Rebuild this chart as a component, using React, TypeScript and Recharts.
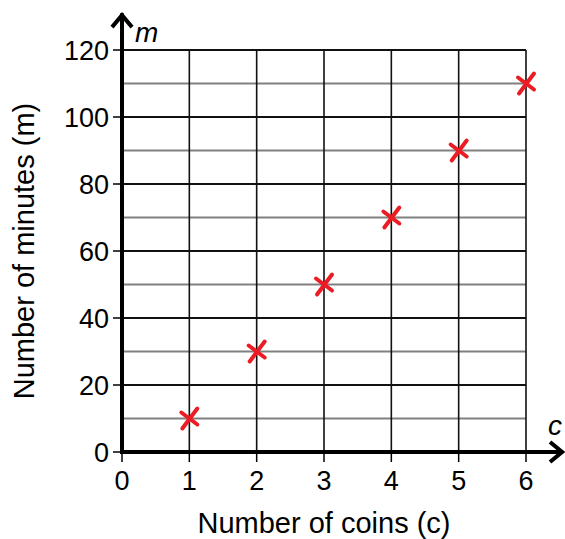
import React from "react";
import {
  ScatterChart,
  Scatter,
  XAxis,
  YAxis,
  ReferenceLine,
  Label,
} from "recharts";

// coins vs minutes
const coins = [1, 2, 3, 4, 5, 6];
const minutes = [10, 30, 50, 70, 90, 110];

const xTicks = [0, 1, 2, 3, 4, 5, 6];
const yTicks = [0, 20, 40, 60, 80, 100, 120];
const minorY = [10, 30, 50, 70, 90, 110];
const majorY = [20, 40, 60, 80, 100, 120];
const gridX = [1, 2, 3, 4, 5, 6];

const data = coins.map((c, i) => ({ c, m: minutes[i] }));

const FONT = "'Liberation Sans', Arial, sans-serif";
const RED = "#ec1c24";

const Cross = (props: any) => {
  const { cx, cy } = props;
  if (cx == null || cy == null) return null;
  return (
    <g stroke={RED} strokeWidth={4} strokeLinecap="round" fill="none">
      <path d={`M${cx + 8},${cy - 10} L${cx - 7},${cy + 10}`} />
      <path d={`M${cx - 8},${cy - 6} L${cx + 8},${cy + 6}`} />
    </g>
  );
};

const YArrow = (props: any) => {
  const { x1, y1, x2, y2 } = props;
  return (
    <g>
      <line x1={x1} y1={y1 + 2} x2={x2} y2={y2} stroke="#000" strokeWidth={4} />
      <polyline
        points={`${x2 - 10},${y2 + 14} ${x2},${y2 + 2} ${x2 + 10},${y2 + 14}`}
        stroke="#000"
        strokeWidth={4}
        fill="none"
      />
      <text x={x2 + 13} y={y2 + 29} fontFamily={FONT} fontStyle="italic" fontSize={28} fill="#000">
        m
      </text>
    </g>
  );
};

const XArrow = (props: any) => {
  const { x1, y1, x2, y2 } = props;
  return (
    <g>
      <line x1={x1 - 2} y1={y1} x2={x2} y2={y2} stroke="#000" strokeWidth={4} />
      <polyline
        points={`${x2 - 13},${y2 - 10} ${x2 - 1},${y2} ${x2 - 13},${y2 + 10}`}
        stroke="#000"
        strokeWidth={4}
        fill="none"
      />
      <text x={x2 - 15} y={y2 - 17} fontFamily={FONT} fontStyle="italic" fontSize={28} fill="#000">
        c
      </text>
    </g>
  );
};

const YTitle = (props: any) => {
  const { viewBox } = props;
  const x = 34;
  const y = viewBox.y + viewBox.height / 2;
  return (
    <text
      x={x}
      y={y}
      transform={`rotate(-90, ${x}, ${y})`}
      textAnchor="middle"
      fontFamily={FONT}
      fontSize={29}
      fill="#000"
    >
      Number of minutes (m)
    </text>
  );
};

export default function App() {
  return (
    <div style={{ position: "absolute", left: 0, top: 0 }}>
      <ScatterChart
        width={565}
        height={539}
        margin={{ top: 50, right: 39, left: 0, bottom: 0 }}
        style={{ fontFamily: FONT }}
      >
        <XAxis
          type="number"
          dataKey="c"
          domain={[0, 6]}
          ticks={xTicks}
          height={87}
          axisLine={false}
          tickSize={10}
          tickMargin={9}
          tickLine={{ stroke: "#000", strokeWidth: 1.5 }}
          tick={{ fill: "#000", fontSize: 27, fontFamily: FONT }}
        >
          <Label
            value="Number of coins (c)"
            position="insideBottom"
            offset={6}
            fill="#000"
            fontSize={29}
            fontFamily={FONT}
          />
        </XAxis>
        <YAxis
          type="number"
          dataKey="m"
          domain={[0, 120]}
          ticks={yTicks}
          width={122}
          axisLine={false}
          tickSize={9}
          tickMargin={4}
          tickLine={{ stroke: "#000", strokeWidth: 1.5 }}
          tick={{ fill: "#000", fontSize: 27, fontFamily: FONT }}
        >
          <Label content={<YTitle />} />
        </YAxis>

        {minorY.map((v) => (
          <ReferenceLine key={`mi-${v}`} y={v} stroke="#808080" strokeWidth={2} />
        ))}
        {majorY.map((v) => (
          <ReferenceLine key={`ma-${v}`} y={v} stroke="#111" strokeWidth={2} />
        ))}
        {gridX.map((v) => (
          <ReferenceLine key={`gx-${v}`} x={v} stroke="#111" strokeWidth={1.6} />
        ))}

        <ReferenceLine
          segment={[
            { x: 0, y: 0 },
            { x: 0, y: 131 },
          ]}
          ifOverflow="visible"
          shape={<YArrow />}
        />
        <ReferenceLine
          segment={[
            { x: 0, y: 0 },
            { x: 6.55, y: 0 },
          ]}
          ifOverflow="visible"
          shape={<XArrow />}
        />

        <Scatter data={data} shape={<Cross />} isAnimationActive={false} />
      </ScatterChart>
    </div>
  );
}
